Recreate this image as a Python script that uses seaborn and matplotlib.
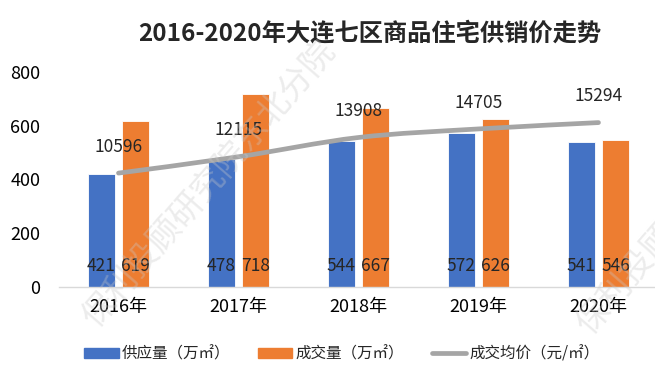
import pandas as pd
import matplotlib.pyplot as plt
import seaborn as sns
from matplotlib.path import Path
from matplotlib.patches import PathPatch, Patch
from matplotlib.lines import Line2D

# data
years = ["2016年", "2017年", "2018年", "2019年", "2020年"]
supply = [421, 478, 544, 572, 541]   # 供应量（万㎡）
deal = [619, 718, 667, 626, 546]     # 成交量（万㎡）
price = [10596, 12115, 13908, 14705, 15294]  # 成交均价（元/㎡）

blue = "#4472C4"
orange = "#ED7D31"
gray = "#A5A5A5"

sns.set_style("white")
plt.rcParams['font.family'] = ['Noto Sans CJK SC', 'DejaVu Sans']

df = pd.DataFrame({
    "year": years * 2,
    "value": supply + deal,
    "kind": ["供应量（万㎡）"] * len(years) + ["成交量（万㎡）"] * len(years),
})

fig = plt.figure(figsize=(6.55, 3.71), dpi=100)
ax = fig.add_axes([58.5 / 655, 84 / 371, 600 / 655, 215 / 371])

sns.barplot(data=df, x="year", y="value", hue="kind", palette=[blue, orange],
            saturation=1, width=0.57, gap=0.21, edgecolor="white", linewidth=0.6,
            ax=ax, legend=False)

ax.set_xlim(-0.5, 4.5)
ax.set_ylim(0, 800)
ax.set_yticks([0, 200, 400, 600, 800])
ax.set_xlabel("")
ax.set_ylabel("")
for s in ["top", "right", "left"]:
    ax.spines[s].set_visible(False)
ax.spines["bottom"].set_color("#D9D9D9")
ax.spines["bottom"].set_linewidth(1.0)
ax.tick_params(axis="both", length=0, labelsize=13, colors="#000000")
ax.tick_params(axis="x", pad=8)
ax.tick_params(axis="y", pad=13)

# value labels inside bars, near the bottom
for i in range(len(years)):
    ax.text(i - 0.1425, 78, str(supply[i]), ha="center", va="center", fontsize=12.5)
    ax.text(i + 0.1425, 78, str(deal[i]), ha="center", va="center", fontsize=12.5)

# price line on a hidden secondary axis, smoothed like the office chart
ax2 = ax.twinx()
ax2.set_ylim(0, 20000)
ax2.set_axis_off()
pts = list(zip(range(len(years)), price))
verts = [pts[0]]
codes = [Path.MOVETO]
for i in range(len(pts) - 1):
    p0 = pts[i - 1] if i > 0 else pts[i]
    p1 = pts[i]
    p2 = pts[i + 1]
    p3 = pts[i + 2] if i + 2 < len(pts) else pts[i + 1]
    c1 = (p1[0] + (p2[0] - p0[0]) / 6, p1[1] + (p2[1] - p0[1]) / 6)
    c2 = (p2[0] - (p3[0] - p1[0]) / 6, p2[1] - (p3[1] - p1[1]) / 6)
    verts += [c1, c2, p2]
    codes += [Path.CURVE4] * 3
ax2.add_patch(PathPatch(Path(verts, codes), facecolor="none", edgecolor=gray,
                        lw=3.4, capstyle="round"))
for i, p in enumerate(price):
    ax2.annotate(str(p), (i, p), xytext=(0, 19), textcoords="offset points",
                 ha="center", va="center", fontsize=12.5)

# watermark
for x0, y0 in [(0.115, 0.1), (0.87, 0.08)]:
    fig.text(x0, y0, "保利投顾研究院东北分院", rotation=49, fontsize=24,
             color="#C8C8C8", alpha=0.35, ha="left", va="bottom", zorder=5)

fig.text(370 / 655, 1 - 33 / 371, "2016-2020年大连七区商品住宅供销价走势",
         ha="center", va="center", fontsize=17.5, fontweight="bold")

handles = [Patch(color=blue, label="供应量（万㎡）"),
           Patch(color=orange, label="成交量（万㎡）"),
           Line2D([0], [0], color=gray, lw=3.4, label="成交均价（元/㎡）")]
fig.legend(handles=handles, loc="center", bbox_to_anchor=(342 / 655, 1 - 354 / 371),
           ncol=3, frameon=False, fontsize=11.2, handlelength=2.2, handleheight=0.6,
           columnspacing=1.8, handletextpad=0.2)

plt.savefig("out.png", dpi=100)
